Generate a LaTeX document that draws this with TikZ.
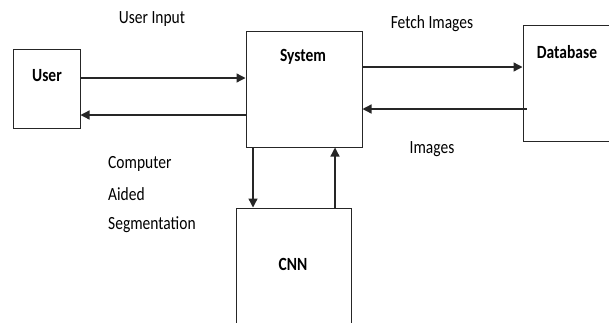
\documentclass[tikz,border=0pt]{standalone}
\usepackage{fontspec}
\setmainfont{Carlito}
\usetikzlibrary{arrows.meta}
\tikzset{
  box/.style={draw=black!85, line width=1pt, minimum width=#1, inner sep=0pt},
  lbl/.style={inner sep=0pt, font=\fontsize{15.5}{18}\selectfont},
  blbl/.style={inner sep=0pt, font=\fontsize{15.5}{18}\selectfont\bfseries},
  arr/.style={draw=black!85, line width=1.3pt, -{Triangle[length=9pt,width=9pt]}},
}
\newcommand{\tall}[1]{\scalebox{1}[1.2]{#1}}
\begin{document}
\begin{tikzpicture}[x=1pt,y=1pt]
\useasboundingbox (0,0) rectangle (609,-322);
\clip (0,0) rectangle (609,-322);
% boxes
\node[box=67pt, minimum height=79pt] (user) at (46.5,-88.5) {};
\node[box=116pt, minimum height=116pt] (system) at (304,-89) {};
\node[box=117pt, minimum height=116pt] (db) at (581.5,-83) {};
\node[box=115pt, minimum height=132pt] (cnn) at (293.5,-274) {};
% box labels
\node[blbl] (usert) at (47,-76) {\tall{User}};
\node[blbl] (syst) at (303,-57) {\tall{System}};
\node[blbl] (dbt) at (567,-52) {\tall{Database}};
\node[blbl] (cnnt) at (293,-264) {\tall{CNN}};
% connector labels
\node[lbl] (ui) at (152,-19) {\tall{User Input}};
\node[lbl] (fi) at (432,-24) {\tall{Fetch Images}};
\node[lbl] (im) at (432,-149) {\tall{Images}};
\node[lbl, anchor=west] (c1) at (108,-164) {\tall{Computer}};
\node[lbl, anchor=west] (c2) at (108,-194) {\tall{Aided}};
\node[lbl, anchor=west] (c3) at (108,-225) {\tall{Segmentation}};
% connectors
\draw[arr] (user.east |- 0,-78) -- (system.west |- 0,-78);
\draw[arr] (system.west |- 0,-115) -- (user.east |- 0,-115);
\draw[arr] (system.east |- 0,-67) -- (db.west |- 0,-67);
\draw[arr] ([xshift=4pt]db.west |- 0,-109) -- (system.east |- 0,-109);
\draw[arr] (system.south -| 253,0) -- (cnn.north -| 253,0);
\draw[arr] (cnn.north -| 335,0) -- (system.south -| 335,0);
\end{tikzpicture}
\end{document}
